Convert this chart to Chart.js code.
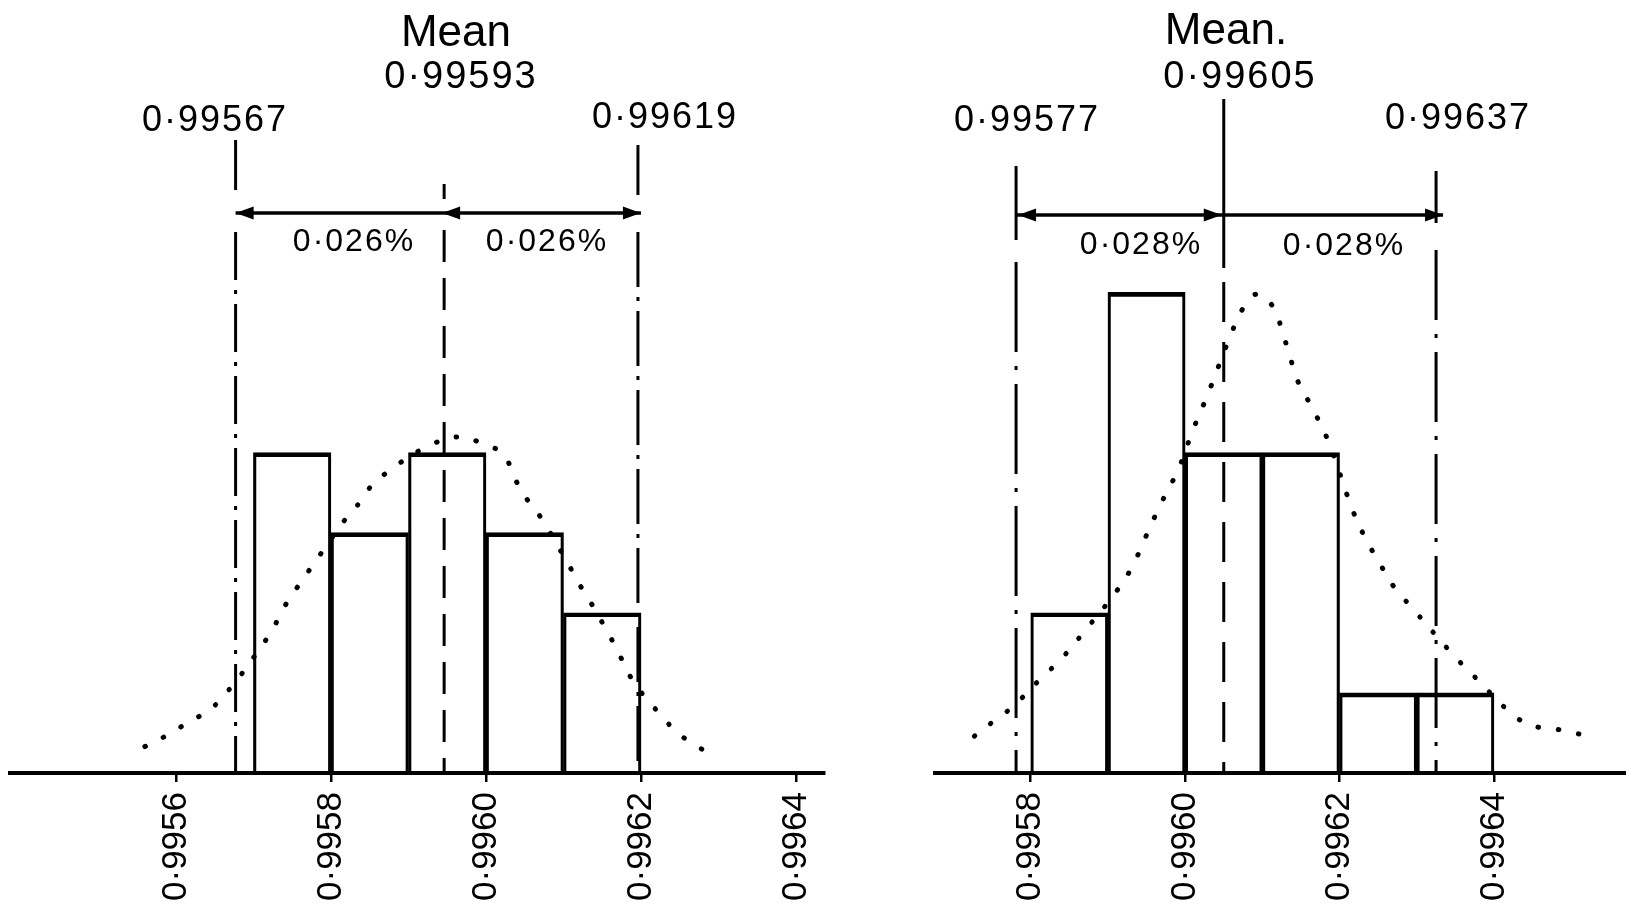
<!DOCTYPE html>
<html><head><meta charset="utf-8">
<script src="https://cdn.jsdelivr.net/npm/chart.js@4.4.1/dist/chart.umd.min.js"></script>
<style>
html,body{margin:0;padding:0;background:#fff;}
body{width:1626px;height:918px;position:relative;overflow:hidden;}
canvas{position:absolute;top:0;}
</style></head><body>
<canvas id="c1" width="860" height="918" style="left:0px"></canvas>
<canvas id="c2" width="746" height="918" style="left:880px"></canvas>
<script>
// ---------- DATA ----------
// Left histogram (bin centres, counts)
const leftBinCenters = [0.99575, 0.99585, 0.99595, 0.99605, 0.99615];
const leftCounts     = [4, 3, 4, 3, 2];
const leftTicks      = [0.9956, 0.9958, 0.9960, 0.9962, 0.9964];
const leftTickLabels = ["0·9956", "0·9958", "0·9960", "0·9962", "0·9964"];
// Left fitted (dotted) curve
const leftCurveX = [0.99556,0.995594,0.995615,0.99565,0.995719,0.995739,0.995756,0.995777,0.995818,0.995839,0.99585,0.995872,0.995921,0.995966,0.995991,0.996022,0.996037,0.996052,0.99607,0.996106,0.996119,0.996135,0.996151,0.996169,0.996187,0.996205,0.996225,0.996246,0.996265,0.996295];
const leftCurveY = [0.33,0.50,0.63,0.84,1.70,2.06,2.31,2.60,3.16,3.40,3.56,3.75,4.06,4.20,4.13,3.98,3.68,3.43,3.20,2.61,2.38,2.13,1.86,1.54,1.19,0.95,0.73,0.51,0.38,0.20];
// Left limit / mean lines (as drawn) and their labels
const leftLineValues = [0.995677, 0.995946, 0.996196];
const leftLabels = ["Mean", "0·99593", "0·99567", "0·99619", "0·026%", "0·026%"];

// Right histogram
const rightBinCenters = [0.99585, 0.99595, 0.99605, 0.99615, 0.99625, 0.99635];
const rightCounts     = [2, 6, 4, 4, 1, 1];
const rightTicks      = [0.9958, 0.9960, 0.9962, 0.9964];
const rightTickLabels = ["0·9958", "0·9960", "0·9962", "0·9964"];
const rightCurveX = [0.995727,0.995751,0.995777,0.99581,0.995841,0.995873,0.995908,0.99593,0.995949,0.995967,0.995992,0.99601,0.996029,0.99606,0.996075,0.996094,0.996116,0.996125,0.996134,0.996146,0.996165,0.996185,0.996217,0.996233,0.996253,0.99627,0.996295,0.996343,0.996375,0.996431,0.996462,0.996485,0.99653];
const rightCurveY = [0.46,0.64,0.83,1.15,1.44,1.81,2.23,2.55,2.95,3.33,3.81,4.28,4.72,5.49,5.80,5.98,5.79,5.53,5.26,4.89,4.55,4.15,3.28,2.94,2.60,2.33,2.05,1.52,1.20,0.68,0.56,0.54,0.44];
const rightLineValues = [0.995781, 0.99605, 0.996325];
const rightLabels = ["Mean.", "0·99605", "0·99577", "0·99637", "0·028%", "0·028%"];

// ---------- DRAWING ----------
const FONT = "'Liberation Sans', Arial, sans-serif";

const annot = {
  id: 'annot',
  afterDraw(chart, args, o) {
    const ctx = chart.ctx, xs = chart.scales.x;
    ctx.save();
    ctx.strokeStyle = '#000'; ctx.fillStyle = '#000';
    ctx.lineCap = 'butt';
    o.lines.forEach(l => {
      const px = xs.getPixelForValue(l.v);
      ctx.lineWidth = 3;
      ctx.setLineDash([]);
      ctx.beginPath(); ctx.moveTo(px, l.solid[0]); ctx.lineTo(px, l.solid[1]); ctx.stroke();
      ctx.setLineDash(l.pattern);
      ctx.beginPath(); ctx.moveTo(px, l.dash[0]); ctx.lineTo(px, l.dash[1]); ctx.stroke();
    });
    ctx.setLineDash([]);
    const a = o.arrow;
    const x0 = xs.getPixelForValue(a.from), x1 = xs.getPixelForValue(a.to) + (a.overshoot || 0);
    ctx.lineWidth = 3.5;
    ctx.beginPath(); ctx.moveTo(x0, a.y); ctx.lineTo(x1, a.y); ctx.stroke();
    a.heads.forEach(h => {
      const px = xs.getPixelForValue(h.v) + (h.off || 0);
      ctx.beginPath();
      ctx.moveTo(px, a.y);
      ctx.lineTo(px - h.dir * 18, a.y - 6.5);
      ctx.lineTo(px - h.dir * 18, a.y + 6.5);
      ctx.closePath(); ctx.fill();
    });
    o.texts.forEach(t => {
      ctx.font = t.size + 'px ' + FONT;
      ctx.letterSpacing = (t.ls || 0) + 'px';
      ctx.textAlign = 'center'; ctx.textBaseline = 'middle';
      ctx.fillText(t.t, t.x - o.offsetX, t.y);
    });
    ctx.restore();
  }
};

function makeChart(id, cfg) {
  const bars = cfg.centers.map((c, i) => ({x: c, y: cfg.counts[i]}));
  const curve = cfg.curveX.map((x, i) => ({x: x, y: cfg.curveY[i]}));
  return new Chart(document.getElementById(id), {
    type: 'bar',
    data: {
      datasets: [
        {type: 'line', data: curve, borderColor: '#000', borderWidth: 5,
         borderDash: [0.5, 20], borderCapStyle: 'round', pointRadius: 0,
         tension: 0.4, fill: false, order: 0},
        {type: 'bar', data: bars, backgroundColor: 'rgba(0,0,0,0)', borderColor: '#000',
         borderWidth: {top: 4, left: 2.5, right: 2.5, bottom: 0}, borderSkipped: false,
         barPercentage: 1, categoryPercentage: 1, order: 1}
      ]
    },
    options: {
      responsive: false, animation: false,
      layout: {padding: cfg.padding},
      plugins: {legend: {display: false}, tooltip: {enabled: false}, annot: cfg.annot},
      scales: {
        x: {
          type: 'linear', min: cfg.min, max: cfg.max, offset: false,
          grid: {display: true, drawOnChartArea: false, drawTicks: true, tickLength: 9, color: '#000', lineWidth: 2.5, offset: false},
          border: {display: true, color: '#000', width: 4},
          afterBuildTicks: s => { s.ticks = cfg.ticks.map(v => ({value: v})); },
          afterFit: s => { s.height = 145; },
          ticks: {autoSkip: false, minRotation: 90, maxRotation: 90, padding: 10, color: '#000',
                  font: {family: FONT, size: 35}, callback: (v, i) => cfg.tickLabels[i]}
        },
        y: {display: false, min: 0, max: 9.65}
      }
    },
    plugins: [annot]
  });
}

makeChart('c1', {
  centers: leftBinCenters, counts: leftCounts, curveX: leftCurveX, curveY: leftCurveY,
  ticks: leftTicks, tickLabels: leftTickLabels,
  min: 0.995386, max: 0.996436, padding: {left: 10, right: 36, top: 0, bottom: 0},
  annot: {
    offsetX: 0,
    lines: [
      {v: leftLineValues[0], solid: [140, 190], dash: [232, 773], pattern: [48, 10, 4, 10]},
      {v: leftLineValues[1], solid: [184, 199], dash: [230, 773], pattern: [32, 16]},
      {v: leftLineValues[2], solid: [145, 195], dash: [232, 773], pattern: [55, 10, 4, 10]}
    ],
    arrow: {y: 213, from: leftLineValues[0], to: leftLineValues[2], overshoot: 3,
            heads: [{v: leftLineValues[0], dir: -1}, {v: leftLineValues[2], dir: 1, off: 3}, {v: leftLineValues[1], dir: -1, off: -2}]},
    texts: [
      {t: leftLabels[0], x: 456, y: 34, size: 44},
      {t: leftLabels[1], x: 461, y: 78, size: 38, ls: 2},
      {t: leftLabels[2], x: 215, y: 121, size: 36, ls: 2},
      {t: leftLabels[3], x: 665, y: 118, size: 36, ls: 2},
      {t: leftLabels[4], x: 354, y: 242, size: 32, ls: 2},
      {t: leftLabels[5], x: 547, y: 242, size: 32, ls: 2}
    ]
  }
});

makeChart('c2', {
  centers: rightBinCenters, counts: rightCounts, curveX: rightCurveX, curveY: rightCurveY,
  ticks: rightTicks, tickLabels: rightTickLabels,
  min: 0.995676, max: 0.996571, padding: {left: 55, right: 0, top: 0, bottom: 0},
  annot: {
    offsetX: 880,
    lines: [
      {v: rightLineValues[0], solid: [166, 240], dash: [262, 773], pattern: [90, 14, 4, 14]},
      {v: rightLineValues[1], solid: [99, 268], dash: [282, 773], pattern: [40, 20]},
      {v: rightLineValues[2], solid: [171, 223], dash: [250, 773], pattern: [70, 14, 4, 14]}
    ],
    arrow: {y: 215, from: rightLineValues[0], to: rightLineValues[2], overshoot: 7,
            heads: [{v: rightLineValues[0], dir: -1, off: 2}, {v: rightLineValues[1], dir: 1, off: -2}, {v: rightLineValues[2], dir: 1, off: 7}]},
    texts: [
      {t: rightLabels[0], x: 1226, y: 32, size: 44},
      {t: rightLabels[1], x: 1240, y: 78, size: 38, ls: 2},
      {t: rightLabels[2], x: 1027, y: 121, size: 36, ls: 2},
      {t: rightLabels[3], x: 1458, y: 119, size: 36, ls: 2},
      {t: rightLabels[4], x: 1141, y: 245, size: 32, ls: 2},
      {t: rightLabels[5], x: 1344, y: 246, size: 32, ls: 2}
    ]
  }
});
</script>
</body></html>
